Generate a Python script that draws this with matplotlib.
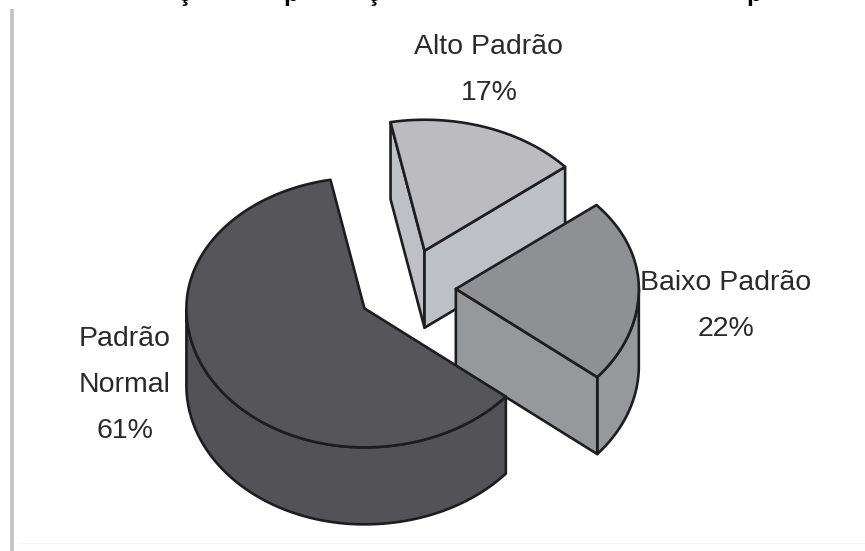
import numpy as np
import matplotlib
matplotlib.use('Agg')
import matplotlib.pyplot as plt
from matplotlib.patches import Polygon

plt.rcParams['font.family'] = ['Liberation Sans']

# Shares of each market segment
labels = ['Padrão\nNormal\n61%', 'Baixo Padrão\n22%', 'Alto Padrão\n17%']
shares = [61, 22, 17]
explode = [0.272, 0.28, 0.31]

# Pie geometry, in pixels of the figure
CX, CY = 406, 289
RX_LEFT, RX_RIGHT = 178, 183
RY_BACK, RY_FRONT = 131, 139
DEPTH = 77
START = 101
EDGE = '#1d1d21'
LW = 1.9

top_colors = ['#55555a', '#8f9094', '#bcbcc0']
cut_colors = ['#55555a', '#96989c', '#bdc0c4']
wall_colors = ['#535357', '#97989c', '#bfc0c6']


def rim(apex, t):
    """Points on the top rim of a slice for angles t, in degrees"""
    r = np.radians(t)
    rx = np.where(np.cos(r) > 0, RX_RIGHT, RX_LEFT)
    ry = np.where(np.sin(r) > 0, RY_BACK, RY_FRONT)
    return np.column_stack([apex[0] + rx * np.cos(r), apex[1] - ry * np.sin(r)])


def face(ax, pts, color, z):
    ax.add_patch(Polygon(pts, closed=True, facecolor=color, edgecolor=EDGE,
                         linewidth=LW, joinstyle='round', zorder=z))


fig = plt.figure(figsize=(8.65, 5.51), dpi=100)
ax = fig.add_axes([0, 0, 1, 1])
ax.set_xlim(0, 865)
ax.set_ylim(551, 0)
ax.axis('off')

# slice angles run counter-clockwise from START
spans = np.array(shares) * 3.6
starts = START + np.concatenate([[0], np.cumsum(spans)[:-1]])
down = np.array([0, DEPTH])

# back to front: Alto, Baixo, Normal
for z, i in zip([1, 2, 3], [2, 1, 0]):
    t0, t1 = starts[i], starts[i] + spans[i]
    mid = np.radians((t0 + t1) / 2)
    ry = RY_BACK if np.sin(mid) > 0 else RY_FRONT
    apex = np.array([CX + explode[i] * RX_LEFT * np.cos(mid),
                     CY - explode[i] * ry * np.sin(mid)])
    arc = rim(apex, np.linspace(t0, t1, 120))

    # outer wall, only the part facing the viewer
    if i != 2:
        w = rim(apex, np.linspace(max(t0, 180), min(t1, 360), 200))
        face(ax, np.vstack([w, (w + down)[::-1]]), wall_colors[i], z)

    # cut faces, the ones turned to the viewer
    if i == 2:
        face(ax, [apex, arc[-1], arc[-1] + down, apex + down], wall_colors[i], z)
        face(ax, [apex, arc[0], arc[0] + down, apex + down], cut_colors[i], z)
    if i == 1:
        face(ax, [apex, arc[0], arc[0] + down, apex + down], cut_colors[i], z)

    face(ax, np.vstack([[apex], arc]), top_colors[i], z + 0.5)

text_style = dict(ha='center', va='center', fontsize=20.5, color='#2a2a2a',
                  linespacing=2.0)
ax.text(125, 385, labels[0], **text_style)
ax.text(726, 306, labels[1], **text_style)
ax.text(489, 70, labels[2], **text_style)

# heading cut off by the top edge, only the descenders stay on the canvas
for x, ch in [(178, 'ç'), (367, 'ç'), (283, 'p'), (746, 'p')]:
    ax.text(x, 1.5, ch, ha='left', va='baseline', fontsize=18, fontweight='bold',
            color='black')

# frame lines
ax.plot([11.5, 11.5], [9, 551], color='#c2c2c2', linewidth=2.6, solid_capstyle='butt')
ax.plot([18, 865], [543, 543], color='#f5f5f5', linewidth=1)

fig.savefig('out.png', dpi=100)
